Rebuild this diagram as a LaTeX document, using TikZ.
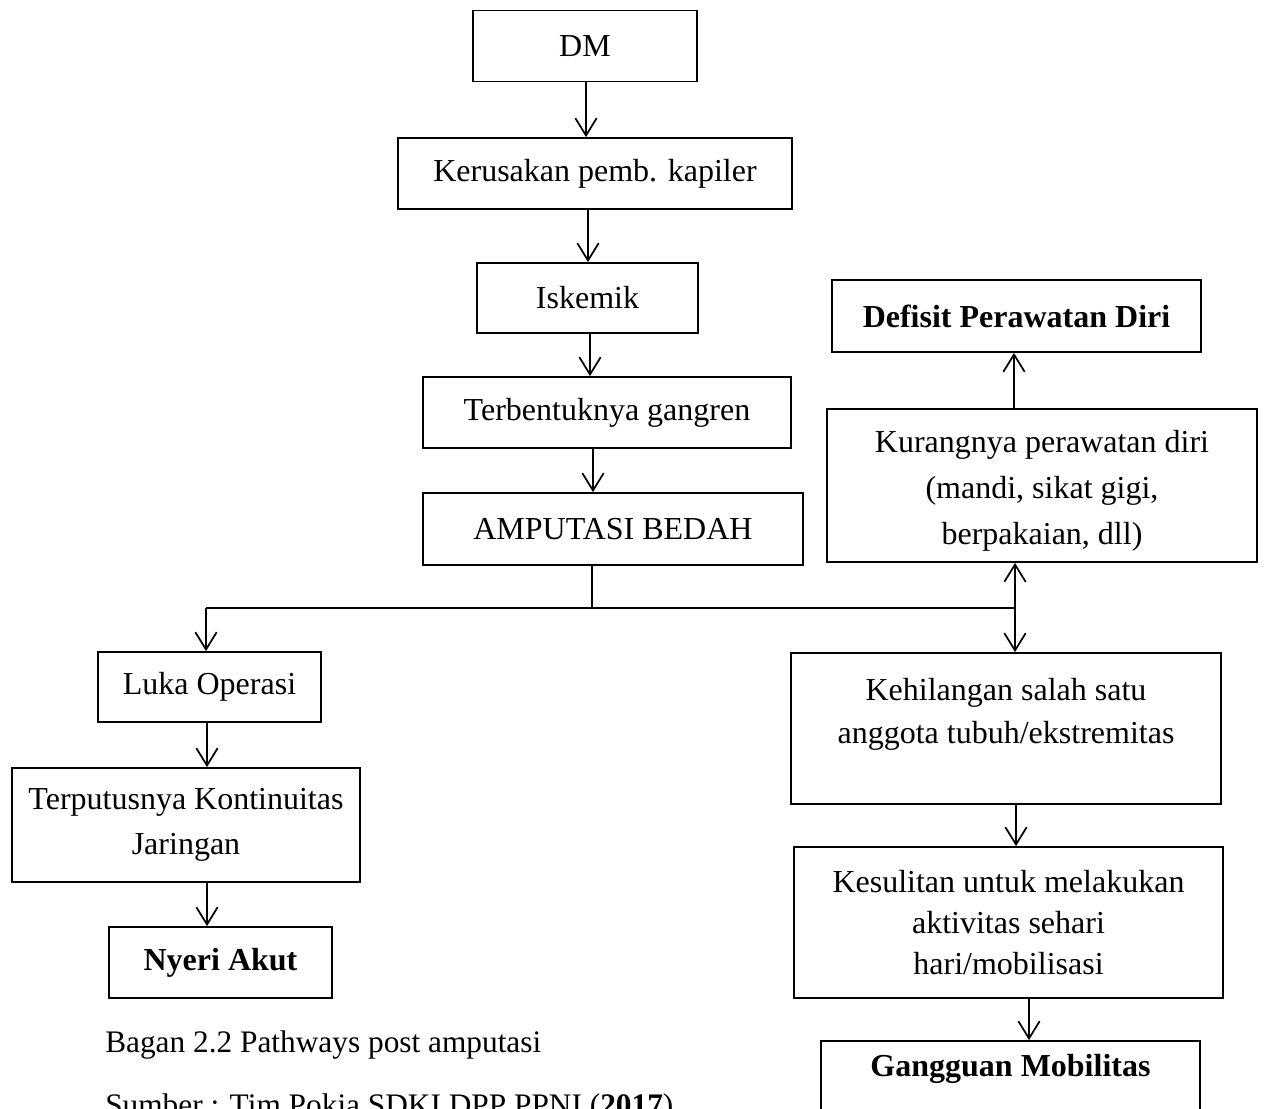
\documentclass[tikz,border=0pt]{standalone}
\usepackage{fontspec}
\setmainfont{Liberation Serif}
\usetikzlibrary{arrows.meta}
\begin{document}
\begin{tikzpicture}[x=0.75pt,y=-0.75pt,
  font=\fontsize{24pt}{31.5pt}\selectfont,
  box/.style={draw, line width=1.3pt, align=center, inner sep=0pt},
  bx/.style 2 args={minimum width={#1*0.75pt}, minimum height={#2*0.75pt}},
  ln/.style={line width=1.3pt},
  captxt/.style={anchor=base west, inner sep=0pt, font=\fontsize{23.5pt}{28pt}\selectfont},
  arr/.style={line width=1.3pt, -{Straight Barb[length=13pt,width=16pt,line width=1.3pt]}}]
\useasboundingbox (0,0) rectangle (1264,1109);
\fill[white] (0,0) rectangle (1264,1109);
\clip (0,0) rectangle (1264,1109);

% centre column
\node[box,bx={224}{71}] (dm)  at (585,46)    {DM};
\node[box,bx={394}{71}] (kp)  at (595,173.5) {Kerusakan pemb. kapiler};
\node[box,bx={221}{70}] (isk) at (587.5,298) {Iskemik};
\node[box,bx={368}{71}] (tg)  at (607,412.5) {Terbentuknya gangren};
\node[box,bx={380}{72}] (amp) at (613,529)   {AMPUTASI BEDAH};

% right column
\node[box,bx={369}{72}] (dpd) at (1016.5,316) {\textbf{Defisit Perawatan Diri}};
\node[box,bx={430}{153},font=\fontsize{24pt}{34.5pt}\selectfont] (kpd) at (1042,485.5)
  {\rule{0pt}{24pt}Kurangnya perawatan diri\\(mandi, sikat gigi,\\berpakaian, dll)};
\node[box,bx={430}{151},font=\fontsize{24pt}{32.25pt}\selectfont] (keh) at (1006,728.5)
  {Kehilangan salah satu\\anggota tubuh/ekstremitas\\[-16pt]\strut};
\node[box,bx={429}{151},font=\fontsize{24pt}{30.75pt}\selectfont] (kes) at (1008.5,922.5)
  {Kesulitan untuk melakukan\\aktivitas sehari\\hari/mobilisasi};
\node[box,bx={379}{104}] (gm) at (1010.5,1093) {\textbf{Gangguan Mobilitas}\\\strut};

% left column
\node[box,bx={223}{70}] (luka) at (209.5,687) {Luka Operasi};
\node[box,bx={348}{114},font=\fontsize{24pt}{33.75pt}\selectfont] (tkj) at (186,825)
  {Terputusnya Kontinuitas\\Jaringan};
\node[box,bx={223}{71}] (nyeri) at (220.5,962.5) {\textbf{Nyeri Akut}};

% captions
\node[captxt] (cap) at (105,1052) {Bagan 2.2 Pathways post amputasi};
\node[captxt] (src) at (105,1115) {Sumber : Tim Pokja SDKI DPP PPNI (\textbf{2017})};

% arrow columns
\coordinate (c1) at (586,0);
\coordinate (c2) at (588,0);
\coordinate (c3) at (590,0);
\coordinate (c4) at (593,0);
\coordinate (c5) at (1014,0);
\coordinate (c6) at (207,0);
\coordinate (c7) at (1016,0);
\coordinate (c8) at (1029,0);
\coordinate (jl) at (206,608);
\coordinate (jm) at (592,608);
\coordinate (jr) at (1015,608);

\draw[arr] (dm.south -| c1) -- (kp.north -| c1);
\draw[arr] (kp.south -| c2) -- (isk.north -| c2);
\draw[arr] (isk.south -| c3) -- (tg.north -| c3);
\draw[arr] (tg.south -| c4) -- (amp.north -| c4);
\draw[ln] (amp.south -| jm) -- (jm);
\draw[ln] (jl) -- (jr);
\draw[arr] (jl) -- (luka.north -| jl);
\draw[arr] (jr) -- (kpd.south -| jr);
\draw[arr] (jr) -- (keh.north -| jr);
\draw[arr] (kpd.north -| c5) -- (dpd.south -| c5);
\draw[arr] (luka.south -| c6) -- (tkj.north -| c6);
\draw[arr] (tkj.south -| c6) -- (nyeri.north -| c6);
\draw[arr] (keh.south -| c7) -- (kes.north -| c7);
\draw[arr] (kes.south -| c8) -- (gm.north -| c8);
\end{tikzpicture}
\end{document}
